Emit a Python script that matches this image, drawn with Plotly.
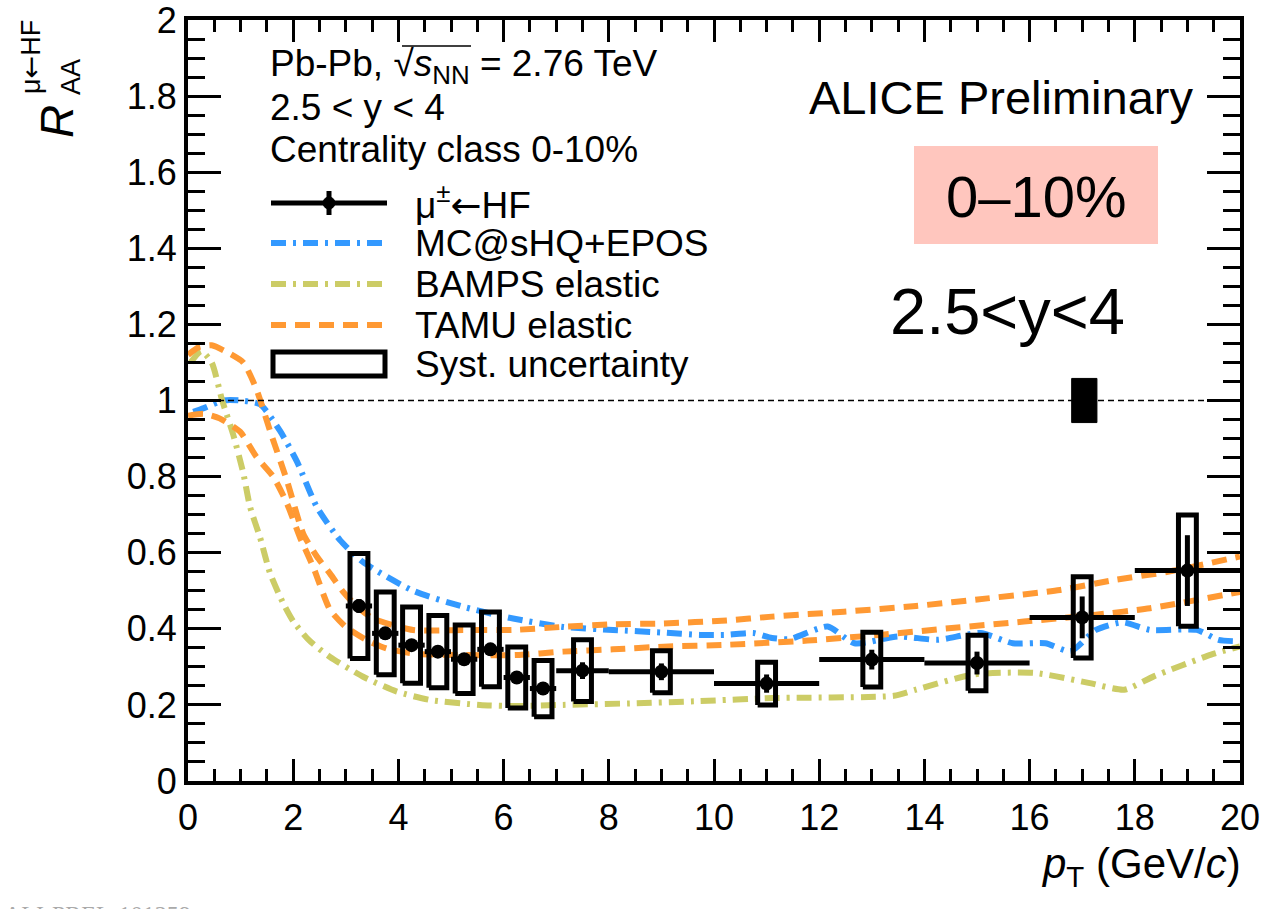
import plotly.graph_objects as go

# ---------------- data ----------------
# mu <- HF R_AA, 0-10% Pb-Pb, 2.5<y<4
pt = [3.25, 3.75, 4.25, 4.75, 5.25, 5.75, 6.25, 6.75, 7.5, 9.0, 11.0, 13.0, 15.0, 17.0, 19.0]
pt_halfwidth = [0.25, 0.25, 0.25, 0.25, 0.25, 0.25, 0.25, 0.25, 0.5, 1.0, 1.0, 1.0, 1.0, 1.0, 1.0]
raa = [0.460, 0.388, 0.357, 0.340, 0.320, 0.346, 0.272, 0.243, 0.290, 0.287, 0.256, 0.319, 0.310, 0.430, 0.553]
raa_stat = [0.018, 0.016, 0.015, 0.015, 0.015, 0.016, 0.016, 0.016, 0.022, 0.022, 0.024, 0.026, 0.030, 0.055, 0.093]
raa_syst = [0.138, 0.109, 0.100, 0.095, 0.090, 0.098, 0.080, 0.074, 0.081, 0.055, 0.056, 0.072, 0.073, 0.107, 0.146]
syst_box_halfwidth = 0.17

# normalisation uncertainty drawn at unity
norm_x = 17.04
norm_halfwidth = 0.24
norm_unc = 0.058

# MC@sHQ+EPOS
mc_pt = [0.1, 0.3, 0.67, 1.0, 1.37, 1.75, 2.07, 2.45, 2.89, 3.33, 4.28, 5.23, 6.18, 7.13, 8.08,
         9.04, 9.73, 10.24, 10.75, 11.1, 11.44, 12.16, 12.67, 13.5, 14.25, 15.07, 15.68, 16.3,
         16.78, 17.26, 17.77, 18.29, 19.18, 19.59, 20.0]
mc_raa = [0.97, 0.98, 1.0, 1.0, 0.99, 0.92, 0.84, 0.72, 0.633, 0.575, 0.50, 0.458, 0.427, 0.405,
          0.397, 0.39, 0.384, 0.384, 0.389, 0.376, 0.373, 0.406, 0.362, 0.38, 0.371, 0.389,
          0.362, 0.362, 0.341, 0.397, 0.417, 0.397, 0.397, 0.371, 0.367]

# BAMPS elastic
bamps_pt = [0.05, 0.25, 0.45, 0.65, 0.86, 1.05, 1.18, 1.37, 1.56, 1.8, 2.0, 2.3, 2.7, 3.33, 3.97,
            4.6, 5.55, 6.25, 7.13, 8.4, 9.73, 11.1, 13.42, 13.84, 14.93, 16.1, 17.12, 17.8,
            18.36, 19.45, 20.0]
bamps_raa = [1.10, 1.13, 1.10, 1.0, 0.91, 0.81, 0.72, 0.64, 0.546, 0.47, 0.42, 0.37, 0.326, 0.274,
             0.235, 0.213, 0.20, 0.197, 0.20, 0.204, 0.21, 0.218, 0.224, 0.24, 0.28, 0.284,
             0.258, 0.24, 0.275, 0.332, 0.354]

# TAMU elastic, upper and lower edge
tamu_hi_pt = [0.0, 0.2, 0.45, 0.7, 1.05, 1.3, 1.56, 1.88, 2.19, 2.45, 2.7, 2.95, 3.2, 3.52, 4.28,
              5.23, 6.18, 7.13, 8.08, 9.04, 10.24, 11.1, 12.47, 13.84, 15.2, 16.58, 17.6,
              18.63, 20.0]
tamu_hi_raa = [1.12, 1.14, 1.145, 1.13, 1.10, 1.03, 0.92, 0.79, 0.65, 0.59, 0.545, 0.497, 0.46,
               0.427, 0.397, 0.397, 0.397, 0.405, 0.412, 0.414, 0.422, 0.432, 0.445, 0.46,
               0.48, 0.502, 0.528, 0.55, 0.59]
tamu_lo_pt = [0.0, 0.3, 0.6, 0.99, 1.3, 1.62, 1.88, 2.13, 2.38, 2.7, 3.0, 3.4, 3.78, 4.28, 5.23,
              6.25, 7.13, 8.08, 9.04, 10.24, 11.78, 13.15, 14.52, 15.89, 17.26, 18.29, 20.0]
tamu_lo_raa = [0.96, 0.965, 0.953, 0.918, 0.852, 0.80, 0.73, 0.64, 0.563, 0.45, 0.405, 0.37,
               0.348, 0.335, 0.331, 0.331, 0.34, 0.346, 0.353, 0.358, 0.369, 0.384, 0.402,
               0.419, 0.437, 0.454, 0.497]

x_tick_vals = [0, 2, 4, 6, 8, 10, 12, 14, 16, 18, 20]
y_tick_vals = [0, 0.2, 0.4, 0.6, 0.8, 1.0, 1.2, 1.4, 1.6, 1.8, 2.0]
y_tick_text = ["0", "0.2", "0.4", "0.6", "0.8", "1", "1.2", "1.4", "1.6", "1.8", "2"]

ARROW = "<span style='font-family:DejaVu Sans'>←</span>"
legend_labels = ["μ<sup>±</sup>" + ARROW + "HF", "MC@sHQ+EPOS", "BAMPS elastic", "TAMU elastic", "Syst. uncertainty"]

# ---------------- styling ----------------
FONT = "Liberation Sans, Arial, Helvetica, sans-serif"
BLUE = "#3399FF"
OLIVE = "#CCCC66"
ORANGE = "#FF9933"
DASHDOT = "15px,7px,3px,7px"
DASH = "15px,9px"

W, H = 1266, 909
L, R, T, B = 188, 1240, 20, 781  # plot-area edges in page pixels


def px(x):
    return (x - L) / (R - L)


def py(y):
    return (B - y) / (B - T)


fig = go.Figure()

# model curves
fig.add_trace(go.Scatter(x=mc_pt, y=mc_raa, mode="lines", line=dict(color=BLUE, width=6, dash=DASHDOT, shape="spline", smoothing=0.6), showlegend=False))
fig.add_trace(go.Scatter(x=bamps_pt, y=bamps_raa, mode="lines", line=dict(color=OLIVE, width=6, dash=DASHDOT, shape="spline", smoothing=0.6), showlegend=False))
fig.add_trace(go.Scatter(x=tamu_hi_pt, y=tamu_hi_raa, mode="lines", line=dict(color=ORANGE, width=6, dash=DASH, shape="spline", smoothing=0.6), showlegend=False))
fig.add_trace(go.Scatter(x=tamu_lo_pt, y=tamu_lo_raa, mode="lines", line=dict(color=ORANGE, width=6, dash=DASH, shape="spline", smoothing=0.6), showlegend=False))

# reference line at unity
fig.add_trace(go.Scatter(x=[0, 20], y=[1, 1], mode="lines", line=dict(color="black", width=1.5, dash="6px,4px"), showlegend=False))

# normalisation uncertainty box
fig.add_trace(go.Scatter(
    x=[norm_x - norm_halfwidth, norm_x + norm_halfwidth, norm_x + norm_halfwidth, norm_x - norm_halfwidth, norm_x - norm_halfwidth],
    y=[1 - norm_unc, 1 - norm_unc, 1 + norm_unc, 1 + norm_unc, 1 - norm_unc],
    mode="lines", fill="toself", fillcolor="black", line=dict(color="black", width=1), showlegend=False))

# systematic uncertainty boxes
bx, by = [], []
for x, y, s in zip(pt, raa, raa_syst):
    x0, x1 = x - syst_box_halfwidth, x + syst_box_halfwidth
    bx += [x0, x1, x1, x0, x0, None]
    by += [y - s, y - s, y + s, y + s, y - s, None]
fig.add_trace(go.Scatter(x=bx, y=by, mode="lines", line=dict(color="black", width=5), showlegend=False))

# data points with bin widths and statistical errors
fig.add_trace(go.Scatter(
    x=pt, y=raa, mode="markers",
    marker=dict(color="black", size=14, symbol="circle"),
    error_x=dict(type="data", array=pt_halfwidth, color="black", thickness=5, width=0),
    error_y=dict(type="data", array=raa_stat, color="black", thickness=5, width=0),
    showlegend=False))

shapes = []
ann = []

# ---------- hand-drawn legend ----------
leg_y = [203, 243, 284, 325, 364]
lx0, lx1, ltext = 271, 387, 413
# data entry: line with marker and error bar
shapes.append(dict(type="line", xref="paper", yref="paper", x0=px(lx0), x1=px(lx1), y0=py(leg_y[0]), y1=py(leg_y[0]), line=dict(color="black", width=5)))
shapes.append(dict(type="line", xref="paper", yref="paper", x0=px(329), x1=px(329), y0=py(leg_y[0] - 12), y1=py(leg_y[0] + 12), line=dict(color="black", width=5)))
shapes.append(dict(type="circle", xref="paper", yref="paper", x0=px(323), x1=px(335), y0=py(leg_y[0] - 6), y1=py(leg_y[0] + 6), fillcolor="black", line=dict(color="black", width=1)))
for yy, col, dash in [(leg_y[1], BLUE, DASHDOT), (leg_y[2], OLIVE, DASHDOT), (leg_y[3], ORANGE, DASH)]:
    shapes.append(dict(type="line", xref="paper", yref="paper", x0=px(lx0), x1=px(lx1), y0=py(yy), y1=py(yy), line=dict(color=col, width=6, dash=dash)))
shapes.append(dict(type="rect", xref="paper", yref="paper", x0=px(lx0 + 2), x1=px(lx1 - 2), y0=py(leg_y[4] - 12), y1=py(leg_y[4] + 12), line=dict(color="black", width=5)))
for yy, lab in zip(leg_y, legend_labels):
    ann.append(dict(text=lab, x=px(ltext), y=py(yy), xref="paper", yref="paper", xanchor="left", yanchor="middle", showarrow=False, font=dict(family=FONT, size=37, color="black")))

# header text
hdr = [("Pb-Pb, √<i>s</i><sub>NN</sub> = 2.76 TeV", 66), ("2.5 &lt; y &lt; 4", 108), ("Centrality class 0-10%", 150)]
for txt, yy in hdr:
    ann.append(dict(text=txt, x=px(268), y=py(yy), xref="paper", yref="paper", xanchor="left", yanchor="middle", showarrow=False, font=dict(family=FONT, size=37, color="black")))
# radical vinculum over s_NN
shapes.append(dict(type="line", xref="paper", yref="paper", x0=px(402), x1=px(471), y0=py(46), y1=py(46), line=dict(color="black", width=1.5)))

# right-hand labels
ann.append(dict(text="ALICE Preliminary", x=px(1195), y=py(97), xref="paper", yref="paper", xanchor="right", yanchor="middle", showarrow=False, font=dict(family=FONT, size=47, color="black")))
shapes.append(dict(type="rect", xref="paper", yref="paper", x0=px(914), x1=px(1158), y0=py(244), y1=py(146), fillcolor="#FFC6BE", line=dict(width=0), layer="below"))
ann.append(dict(text="0–10%", x=px(1036), y=py(197), xref="paper", yref="paper", xanchor="center", yanchor="middle", showarrow=False, font=dict(family=FONT, size=58, color="black")))
ann.append(dict(text="2.5&lt;y&lt;4", x=px(1007), y=py(312), xref="paper", yref="paper", xanchor="center", yanchor="middle", showarrow=False, font=dict(family=FONT, size=65, color="black")))

# axis titles
ann.append(dict(text="<i>p</i><sub>T</sub> (GeV/<i>c</i>)", x=px(1243), y=py(866), xref="paper", yref="paper", xanchor="right", yanchor="middle", showarrow=False, font=dict(family=FONT, size=42, color="black")))
ann.append(dict(text="<i>R</i>", x=px(57), y=py(122), xref="paper", yref="paper", textangle=-90, xanchor="center", yanchor="middle", showarrow=False, font=dict(family=FONT, size=46, color="black")))
ann.append(dict(text="AA", x=px(71), y=py(77), xref="paper", yref="paper", textangle=-90, xanchor="center", yanchor="middle", showarrow=False, font=dict(family=FONT, size=27, color="black")))
ann.append(dict(text="μ" + ARROW + "HF", x=px(30), y=py(57), xref="paper", yref="paper", textangle=-90, xanchor="center", yanchor="middle", showarrow=False, font=dict(family=FONT, size=27, color="black")))

# record identifier at the page foot
ann.append(dict(text="ALI-PREL-101259", x=px(2), y=py(899), xref="paper", yref="paper", xanchor="left", yanchor="top", showarrow=False, font=dict(family="Liberation Serif, serif", size=24, color="#aaaaaa")))

axis_common = dict(showline=True, linecolor="black", linewidth=4, mirror="allticks", ticks="inside",
                   tickcolor="black", tickwidth=3, showgrid=False, zeroline=False,
                   ticklabeloverflow="allow", automargin=False,
                   tickfont=dict(family=FONT, size=36, color="black"))
fig.update_layout(
    width=W, height=H,
    margin=dict(l=L, r=W - R, t=T, b=H - B, autoexpand=False),
    paper_bgcolor="white", plot_bgcolor="white",
    xaxis=dict(range=[0, 20], tickmode="array", tickvals=x_tick_vals, ticklen=22, ticklabelstandoff=2,
               minor=dict(dtick=0.5, tick0=0, ticklen=12, ticks="inside", tickwidth=3, tickcolor="black"), **axis_common),
    yaxis=dict(range=[0, 2], tickmode="array", tickvals=y_tick_vals, ticktext=y_tick_text, ticklen=33, ticklabelstandoff=0,
               minor=dict(dtick=0.05, tick0=0, ticklen=17, ticks="inside", tickwidth=3, tickcolor="black"), **axis_common),
    shapes=shapes, annotations=ann, showlegend=False,
)

fig.write_html("out.html")
